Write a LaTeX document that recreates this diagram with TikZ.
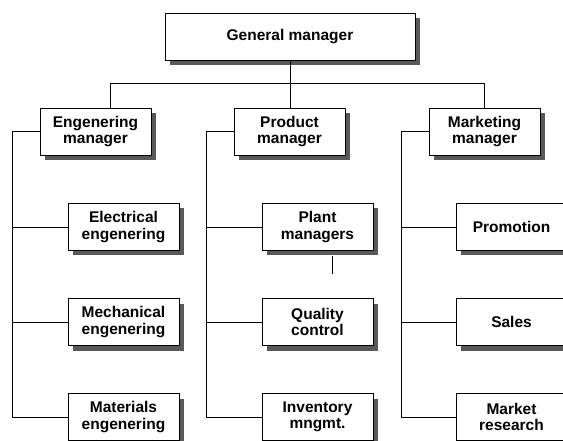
\documentclass[tikz,border=0pt]{standalone}
\usepackage{fontspec}
\setsansfont{Liberation Sans}
\usetikzlibrary{shadows}
\tikzset{
  orgbox/.style={draw, line width=0.8pt, fill=white, minimum width=111pt, minimum height=47pt,
    inner sep=0pt, align=center, font=\sffamily\bfseries\fontsize{15.5}{16.5}\selectfont,
    drop shadow={shadow xshift=5pt, shadow yshift=-5pt, fill=black!65, opacity=1}},
  link/.style={line width=0.8pt}
}
\begin{document}
\begin{tikzpicture}[x=1pt,y=-1pt]
\useasboundingbox (0,0) rectangle (563,441);
% top
\node[orgbox, minimum width=250pt] (gm) at (290,36.5) {General manager};
% managers
\node[orgbox] (eng) at (95.5,131.5) {Engenering\\manager};
\node[orgbox] (prod) at (289.5,131.5) {Product\\manager};
\node[orgbox] (mkt) at (484.5,131.5) {Marketing\\manager};
% departments
\node[orgbox] (elec) at (123.5,227) {Electrical\\engenering};
\node[orgbox] (mech) at (123.5,322) {Mechanical\\engenering};
\node[orgbox] (mat) at (123.5,417) {Materials\\engenering};
\node[orgbox] (plant) at (317.5,227) {Plant\\managers};
\node[orgbox] (qual) at (317.5,322) {Quality\\control};
\node[orgbox] (inv) at (317.5,417) {Inventory\\mngmt.};
\node[orgbox] (promo) at (511.5,227) {Promotion};
\node[orgbox] (sales) at (511.5,322) {Sales};
\node[orgbox] (research) at (511.5,417) {Market\\research};
% connectors
\draw[link] (gm.south) -- (gm.south |- prod.north);
\draw[link] ([xshift=14.5pt]eng.north) -- ++(0,-24) -| (mkt.north);
\foreach \m/\s in {eng/elec, eng/mech, eng/mat, prod/plant, prod/qual, prod/inv,
                   mkt/promo, mkt/sales, mkt/research}
  \draw[link] (\m.west) -- ++(-27,0) |- (\s.west);
\draw[link] ([xshift=14.5pt,yshift=-5pt]plant.south) -- ++(0,18);
\end{tikzpicture}
\end{document}
